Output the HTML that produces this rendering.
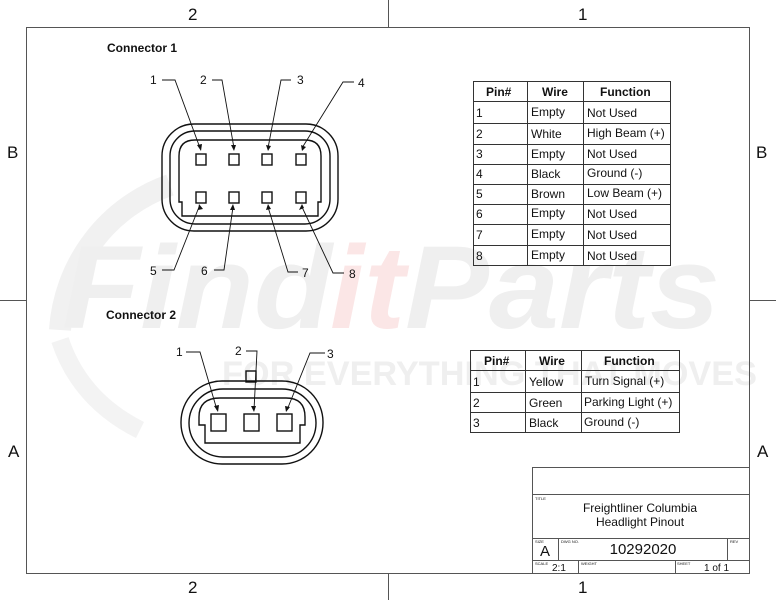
<!DOCTYPE html>
<html><head><meta charset="utf-8"><style>
html,body{margin:0;padding:0;background:#fff}
svg{display:block}
text{font-family:"Liberation Sans",sans-serif;fill:#111}
</style></head><body>
<svg width="776" height="600" viewBox="0 0 776 600" xmlns="http://www.w3.org/2000/svg">
<!-- watermark -->
<g opacity="1">
<path d="M60 330 A165 165 0 0 1 170 185" fill="none" stroke="#f1f1f1" stroke-width="22"/>
<path d="M60 340 Q80 400 140 430" fill="none" stroke="#f3f3f3" stroke-width="18"/>
<text x="62" y="328" font-size="118" font-weight="bold" font-style="italic" style="fill:#efefef" textLength="270" lengthAdjust="spacingAndGlyphs">Find</text>
<text x="330" y="328" font-size="118" font-weight="bold" font-style="italic" style="fill:#fbe6e6" textLength="75" lengthAdjust="spacingAndGlyphs">it</text>
<text x="405" y="328" font-size="118" font-weight="bold" font-style="italic" style="fill:#efefef" textLength="315" lengthAdjust="spacingAndGlyphs">Parts</text>
<text x="222" y="385" font-size="34" font-weight="bold" style="fill:#efefef" textLength="535" lengthAdjust="spacingAndGlyphs">FOR EVERYTHING THAT MOVES</text>
</g>
<!-- frame -->
<g stroke="#555" stroke-width="1" fill="none">
<rect x="26.5" y="27.5" width="723" height="546"/>
<line x1="388.5" y1="0" x2="388.5" y2="27"/>
<line x1="388.5" y1="574" x2="388.5" y2="600"/>
<line x1="0" y1="300.5" x2="26" y2="300.5"/>
<line x1="750" y1="300.5" x2="776" y2="300.5"/>
</g>
<g font-size="17">
<text x="188" y="20">2</text><text x="578" y="20">1</text>
<text x="188" y="593">2</text><text x="578" y="593">1</text>
<text x="7" y="158">B</text><text x="756" y="158">B</text>
<text x="8" y="457">A</text><text x="757" y="457">A</text>
</g>
<text x="107" y="52" font-size="12" font-weight="bold">Connector 1</text>
<text x="106" y="319" font-size="12" font-weight="bold">Connector 2</text>

<!-- connector 1 -->
<g stroke="#111" stroke-width="1.4" fill="none">
<rect x="162" y="124" width="176" height="107" rx="32"/>
<rect x="170" y="131" width="160" height="93" rx="25"/>
<path d="M195 140 H305 Q321 140 321 156 V202 H318 V216 H182 V202 H179 V156 Q179 140 195 140 Z"/>
<rect x="196" y="154" width="10" height="11"/><rect x="229" y="154" width="10" height="11"/>
<rect x="262" y="154" width="10" height="11"/><rect x="296" y="154" width="10" height="11"/>
<rect x="196" y="192" width="10" height="11"/><rect x="229" y="192" width="10" height="11"/>
<rect x="262" y="192" width="10" height="11"/><rect x="296" y="192" width="10" height="11"/>
</g>
<g stroke="#111" stroke-width="0.9" fill="none">
<polyline points="162,80 175,80 200,148"/>
<polyline points="212,80 222,80 234,148"/>
<polyline points="291,80 281,80 268,148"/>
<polyline points="354,82 343,82 302,148"/>
<polyline points="162,270 174,270 199,207"/>
<polyline points="214,270 224,270 233,207"/>
<polyline points="298,272 288,272 268,207"/>
<polyline points="344,273 333,273 302,207"/>
</g>
<g fill="#111">
<path d="M201 151 l-4 -6 l5 -1 z"/><path d="M234 151 l-3 -6 l5 0 z"/>
<path d="M268 151 l-2 -6 l5 1 z"/><path d="M302 151 l-1 -6 l5 2 z"/>
<path d="M199 204 l-1 6 l5 -1 z"/><path d="M233 204 l-3 6 l5 0 z"/>
<path d="M268 204 l-2 6 l5 -1 z"/><path d="M302 204 l-3 6 l5 -2 z"/>
</g>
<g font-size="12">
<text x="150" y="84">1</text><text x="200" y="84">2</text><text x="297" y="84">3</text><text x="358" y="87">4</text>
<text x="150" y="275">5</text><text x="201" y="275">6</text><text x="302" y="277">7</text><text x="349" y="278">8</text>
</g>

<!-- connector 2 -->
<g stroke="#111" stroke-width="1.4" fill="none">
<rect x="246" y="371" width="10" height="11"/>
<rect x="181" y="381" width="142" height="83" rx="41"/>
<rect x="189" y="389" width="127" height="68" rx="34"/>
<path d="M220 398 H286 Q305 398 305 417 V425 H300 V443 H205 V425 H199 V417 Q199 398 220 398 Z"/>
<rect x="211" y="414" width="15" height="17"/><rect x="244" y="414" width="15" height="17"/><rect x="277" y="414" width="15" height="17"/>
</g>
<g stroke="#111" stroke-width="0.9" fill="none">
<polyline points="186,352 200,352 217,410"/>
<polyline points="246,351 257,351 254,410"/>
<polyline points="325,353 310,353 287,410"/>
</g>
<g fill="#111">
<path d="M218 412 l-4 -6 l5 -1 z"/><path d="M254 412 l-3 -6 l5 0 z"/><path d="M286 412 l-1 -6 l5 1 z"/>
</g>
<g font-size="12">
<text x="176" y="356">1</text><text x="235" y="355">2</text><text x="327" y="358">3</text>
</g>

<!-- table 1 -->
<g stroke="#333" stroke-width="1" fill="none">
<rect x="473.5" y="81.5" width="197" height="184"/>
<line x1="527.5" y1="81" x2="527.5" y2="266"/>
<line x1="583.5" y1="81" x2="583.5" y2="266"/>
<line x1="473" y1="101.5" x2="671" y2="101.5"/>
<line x1="473" y1="123.5" x2="671" y2="123.5"/>
<line x1="473" y1="144.5" x2="671" y2="144.5"/>
<line x1="473" y1="164.5" x2="671" y2="164.5"/>
<line x1="473" y1="184.5" x2="671" y2="184.5"/>
<line x1="473" y1="204.5" x2="671" y2="204.5"/>
<line x1="473" y1="224.5" x2="671" y2="224.5"/>
<line x1="473" y1="245.5" x2="671" y2="245.5"/>
</g>
<g font-size="12">
<text x="486" y="96" font-weight="bold">Pin#</text><text x="542" y="96" font-weight="bold">Wire</text><text x="600" y="96" font-weight="bold">Function</text>
<text x="476" y="117">1</text><text x="531" y="116">Empty</text><text x="587" y="117">Not Used</text>
<text x="476" y="138">2</text><text x="531" y="138">White</text><text x="587" y="137">High Beam (+)</text>
<text x="476" y="158">3</text><text x="531" y="158">Empty</text><text x="587" y="158">Not Used</text>
<text x="476" y="178">4</text><text x="531" y="178">Black</text><text x="587" y="177">Ground (-)</text>
<text x="476" y="198">5</text><text x="531" y="198">Brown</text><text x="587" y="197">Low Beam (+)</text>
<text x="476" y="218">6</text><text x="531" y="217">Empty</text><text x="587" y="218">Not Used</text>
<text x="476" y="239">7</text><text x="531" y="238">Empty</text><text x="587" y="239">Not Used</text>
<text x="476" y="260">8</text><text x="531" y="259">Empty</text><text x="587" y="260">Not Used</text>
</g>

<!-- table 2 -->
<g stroke="#333" stroke-width="1" fill="none">
<rect x="470.5" y="350.5" width="209" height="82"/>
<line x1="525.5" y1="350" x2="525.5" y2="433"/>
<line x1="581.5" y1="350" x2="581.5" y2="433"/>
<line x1="470" y1="370.5" x2="680" y2="370.5"/>
<line x1="470" y1="392.5" x2="680" y2="392.5"/>
<line x1="470" y1="412.5" x2="680" y2="412.5"/>
</g>
<g font-size="12">
<text x="484" y="365" font-weight="bold">Pin#</text><text x="539" y="365" font-weight="bold">Wire</text><text x="604" y="365" font-weight="bold">Function</text>
<text x="473" y="386">1</text><text x="529" y="386">Yellow</text><text x="585" y="385">Turn Signal (+)</text>
<text x="473" y="407">2</text><text x="529" y="407">Green</text><text x="584" y="406">Parking Light (+)</text>
<text x="473" y="427">3</text><text x="529" y="427">Black</text><text x="584" y="426">Ground (-)</text>
</g>

<!-- title block -->
<g stroke="#555" stroke-width="1" fill="none">
<line x1="532.5" y1="467" x2="532.5" y2="574"/>
<line x1="532" y1="467.5" x2="750" y2="467.5"/>
<line x1="532" y1="494.5" x2="750" y2="494.5"/>
<line x1="532" y1="538.5" x2="750" y2="538.5"/>
<line x1="532" y1="560.5" x2="750" y2="560.5"/>
<line x1="558.5" y1="538" x2="558.5" y2="560"/>
<line x1="727.5" y1="538" x2="727.5" y2="560"/>
<line x1="578.5" y1="560" x2="578.5" y2="574"/>
<line x1="675.5" y1="560" x2="675.5" y2="574"/>
</g>
<g font-size="4">
<text x="535" y="500">TITLE</text><text x="535" y="543">SIZE</text><text x="561" y="543">DWG NO.</text><text x="730" y="543">REV</text>
<text x="535" y="565">SCALE</text><text x="581" y="565">WEIGHT</text><text x="677" y="565">SHEET</text>
</g>
<text x="640" y="512" font-size="12" text-anchor="middle">Freightliner Columbia</text>
<text x="640" y="526" font-size="12" text-anchor="middle">Headlight Pinout</text>
<text x="540" y="556" font-size="15">A</text>
<text x="643" y="554" font-size="15" text-anchor="middle">10292020</text>
<text x="552" y="571" font-size="10">2:1</text>
<text x="704" y="571" font-size="10">1 of 1</text>
</svg>
</body></html>
